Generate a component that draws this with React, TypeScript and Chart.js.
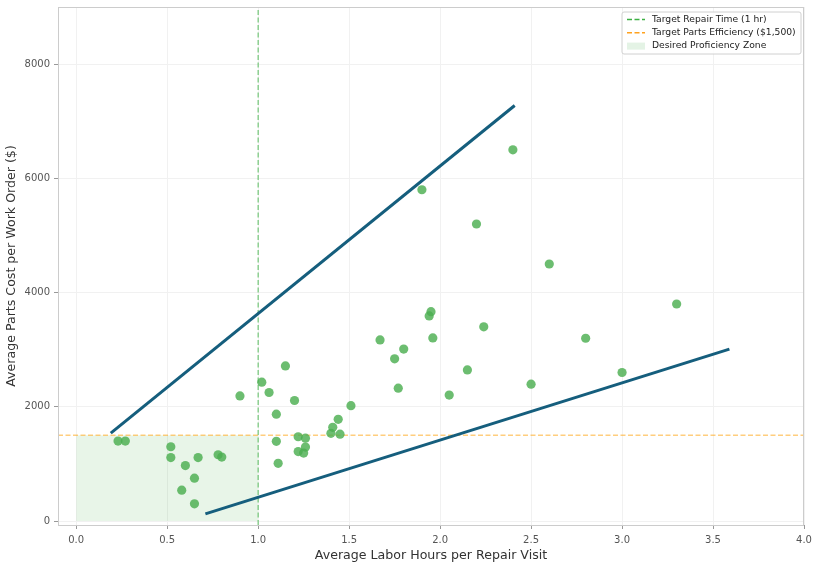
import React, { useEffect, useRef } from 'react';
import { Chart, registerables } from 'chart.js';

Chart.register(...registerables);

// Technician scatter: labor hours vs parts cost
const laborHours = [
  0.23, 0.27, 0.52, 0.52, 0.6, 0.67, 0.65, 0.58, 0.65, 0.78, 0.8, 0.9,
  1.02, 1.06, 1.2, 1.1, 1.1, 1.11, 1.22, 1.26, 1.22, 1.25, 1.26, 1.4,
  1.41, 1.44, 1.45, 1.51, 2.4, 1.9, 2.2, 2.6, 3.3, 1.95, 1.94, 1.67,
  1.96, 2.24, 1.8, 1.75, 2.8, 2.15, 1.77, 2.05, 2.5, 3.0, 1.15,
];
const partsCost = [
  1400, 1400, 1300, 1110, 970, 1110, 750, 540, 300, 1160, 1120, 2190,
  2430, 2250, 2110, 1870, 1395, 1010, 1475, 1450, 1215, 1190, 1295, 1535,
  1640, 1780, 1520, 2020, 6500, 5800, 5200, 4500, 3800, 3665, 3590, 3170,
  3205, 3400, 3010, 2840, 3200, 2645, 2325, 2205, 2395, 2600, 2715,
];

// boundary lines (start / end)
const upperBoundX = [0.19, 2.41];
const upperBoundY = [1540, 7275];
const lowerBoundX = [0.71, 3.59];
const lowerBoundY = [125, 3010];

const targetHours = 1;
const targetCost = 1500;

const xTicks = [0, 0.5, 1, 1.5, 2, 2.5, 3, 3.5, 4];
const yTicks = [0, 2000, 4000, 6000, 8000];
const xRange = [-0.1, 4.0];
const yRange = [-70, 9000];

const legendItems = [
  { label: 'Target Repair Time (1 hr)', kind: 'line', color: '#3cb043' },
  { label: 'Target Parts Efficiency ($1,500)', kind: 'line', color: '#ffa21f' },
  { label: 'Desired Proficiency Zone', kind: 'patch', color: 'rgba(76,175,80,0.15)' },
];

const FONT = "'DejaVu Sans', sans-serif";

const framePlugin = {
  id: 'frameAndLegend',
  afterDraw(chart: any) {
    const { ctx, chartArea: a } = chart;
    ctx.save();
    ctx.strokeStyle = '#cccccc';
    ctx.lineWidth = 1;
    ctx.strokeRect(a.left + 0.5, a.top + 0.5, a.right - a.left - 1, a.bottom - a.top);

    // legend box, upper right
    const w = 179;
    const h = 42;
    const x0 = a.right - w - 3;
    const y0 = a.top + 5;
    ctx.fillStyle = 'rgba(255,255,255,0.85)';
    ctx.strokeStyle = '#d0d0d0';
    ctx.beginPath();
    ctx.roundRect(x0, y0, w, h, 2);
    ctx.fill();
    ctx.stroke();
    ctx.font = `9.2px ${FONT}`;
    ctx.textBaseline = 'middle';
    legendItems.forEach((it, i) => {
      const y = y0 + 7.5 + i * 13.3;
      if (it.kind === 'line') {
        ctx.strokeStyle = it.color;
        ctx.lineWidth = 1.6;
        ctx.setLineDash([5, 2.5]);
        ctx.beginPath();
        ctx.moveTo(x0 + 5, y);
        ctx.lineTo(x0 + 23, y);
        ctx.stroke();
        ctx.setLineDash([]);
      } else {
        ctx.fillStyle = it.color;
        ctx.fillRect(x0 + 5, y - 3.5, 18, 7);
      }
      ctx.fillStyle = '#222';
      ctx.fillText(it.label, x0 + 30, y);
    });
    ctx.restore();
  },
};

const App: React.FC = () => {
  const canvasRef = useRef<HTMLCanvasElement>(null);
  const chartRef = useRef<Chart>();

  useEffect(() => {
    document.body.style.margin = '0';
    const ctx = canvasRef.current?.getContext('2d');
    if (!ctx) return;
    if (chartRef.current) chartRef.current.destroy();

    chartRef.current = new Chart(ctx, {
      type: 'scatter',
      data: {
        datasets: [
          {
            label: 'Desired Proficiency Zone',
            type: 'line',
            data: [
              { x: 0, y: targetCost },
              { x: targetHours, y: targetCost },
            ],
            fill: 'origin',
            backgroundColor: 'rgba(76,175,80,0.13)',
            borderWidth: 0,
            pointRadius: 0,
            order: 10,
          },
          {
            label: 'Target Repair Time (1 hr)',
            type: 'line',
            data: [
              { x: targetHours, y: yRange[0] },
              { x: targetHours, y: yRange[1] },
            ],
            borderColor: 'rgba(60,176,67,0.7)',
            borderWidth: 1.2,
            borderDash: [5, 2.5],
            pointRadius: 0,
            order: 8,
          },
          {
            label: 'Target Parts Efficiency ($1,500)',
            type: 'line',
            data: [
              { x: xRange[0], y: targetCost },
              { x: xRange[1], y: targetCost },
            ],
            borderColor: 'rgba(255,165,20,0.55)',
            borderWidth: 1.5,
            borderDash: [5, 2.5],
            pointRadius: 0,
            order: 8,
          },
          {
            label: 'Upper bound',
            type: 'line',
            data: upperBoundX.map((x, i) => ({ x, y: upperBoundY[i] })),
            borderColor: '#155e7d',
            borderWidth: 3,
            pointRadius: 0,
            order: 5,
          },
          {
            label: 'Lower bound',
            type: 'line',
            data: lowerBoundX.map((x, i) => ({ x, y: lowerBoundY[i] })),
            borderColor: '#155e7d',
            borderWidth: 3,
            pointRadius: 0,
            order: 5,
          },
          {
            label: 'Technicians',
            data: laborHours.map((x, i) => ({ x, y: partsCost[i] })),
            backgroundColor: 'rgba(76,175,80,0.82)',
            borderWidth: 0,
            pointRadius: 4.6,
            order: 1,
          },
        ],
      },
      options: {
        responsive: false,
        animation: false,
        layout: { padding: { top: 7, right: 16, left: 0, bottom: 0 } },
        plugins: {
          legend: { display: false },
          tooltip: { enabled: false },
        },
        scales: {
          x: {
            type: 'linear',
            min: xRange[0],
            max: xRange[1],
            afterBuildTicks: (s: any) => {
              s.ticks = xTicks.map((v) => ({ value: v }));
            },
            afterFit: (s: any) => {
              s.height = 45;
              s.paddingLeft = 0;
              s.paddingRight = 0;
            },
            ticks: {
              callback: (v: any) => Number(v).toFixed(1),
              color: '#555',
              font: { family: FONT, size: 10 },
              padding: 5,
              maxRotation: 0,
            },
            grid: { color: '#f1f1f1', tickColor: '#999', tickLength: 4 },
            border: { display: false },
            title: {
              display: true,
              text: 'Average Labor Hours per Repair Visit',
              color: '#333',
              font: { family: FONT, size: 12.6 },
              padding: { top: 2, bottom: 7 },
            },
          },
          y: {
            type: 'linear',
            min: yRange[0],
            max: yRange[1],
            afterBuildTicks: (s: any) => {
              s.ticks = yTicks.map((v) => ({ value: v }));
            },
            afterFit: (s: any) => {
              s.width = 58;
              s.paddingTop = 0;
              s.paddingBottom = 0;
            },
            ticks: {
              callback: (v: any) => String(v),
              color: '#555',
              font: { family: FONT, size: 10 },
              padding: 4,
            },
            grid: { color: '#f1f1f1', tickColor: '#999', tickLength: 4 },
            border: { display: false },
            title: {
              display: true,
              text: 'Average Parts Cost per Work Order ($)',
              color: '#333',
              font: { family: FONT, size: 12.6 },
              padding: { top: 4, bottom: 2 },
            },
          },
        },
      },
      plugins: [framePlugin],
    });

    return () => {
      chartRef.current?.destroy();
      chartRef.current = undefined;
    };
  }, []);

  return (
    <div style={{ width: 820, height: 570, background: '#fff' }}>
      <canvas ref={canvasRef} width={820} height={570} />
    </div>
  );
};

export default App;
